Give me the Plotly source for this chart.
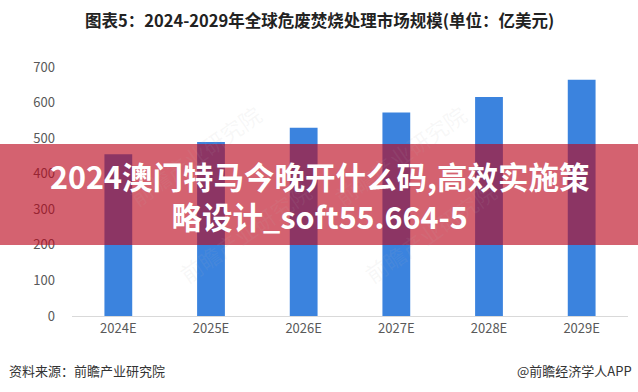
import plotly.graph_objects as go

categories = ["2024E", "2025E", "2026E", "2027E", "2028E", "2029E"]
values = [455, 489, 529, 572, 616, 664]
y_ticks = [0, 100, 200, 300, 400, 500, 600, 700]

title_text = "图表5：2024-2029年全球危废焚烧处理市场规模(单位：亿美元)"
banner_line1 = "2024澳门特马今晚开什么码,高效实施策"
banner_line2 = "略设计_soft55.664-5"
source_text = "资料来源：前瞻产业研究院"
credit_text = "@前瞻经济学人APP"
watermark_text = "前瞻产业研究院"

W, H = 638, 392
L, R, T, B = 72, 10, 67, 76
plot_h = H - T - B

def py(pix):
    return (H - B - pix) / plot_h

def px(pix):
    return (pix - L) / (W - L - R)

CJK = "Noto Sans CJK SC"

fig = go.Figure(go.Bar(
    x=categories, y=values,
    marker=dict(color="#3b83de", line=dict(width=0)),
    width=0.3,
))

fig.update_layout(
    width=W, height=H,
    margin=dict(l=L, r=R, t=T, b=B),
    paper_bgcolor="white", plot_bgcolor="white",
    showlegend=False,
    font=dict(family=CJK, color="#595959"),
    xaxis=dict(showgrid=False, showline=True, linecolor="#d9d9d9", linewidth=1,
               ticks="", tickfont=dict(size=13, color="#595959", family=CJK),
               zeroline=False),
    yaxis=dict(range=[0, 700], tickvals=y_ticks, showgrid=False, zeroline=False,
               showline=False, ticks="", ticklabelstandoff=16,
               tickfont=dict(size=13, color="#595959", family=CJK)),
)

annotations = []
# title
annotations.append(dict(text="<b>" + title_text + "</b>", xref="paper", yref="paper",
                        x=px(319), y=py(20), xanchor="center", yanchor="middle",
                        showarrow=False, font=dict(size=16.5, color="#222222", family=CJK)))
# watermarks
for wx, wy in [(120, 95), (400, 95), (170, 292), (430, 292)]:
    annotations.append(dict(text=watermark_text, xref="paper", yref="paper",
                            x=px(wx), y=py(wy), showarrow=False, textangle=-35,
                            font=dict(size=22, color="rgba(180,180,180,0.10)", family=CJK)))
# banner text (two lines in one block)
annotations.append(dict(text="<b>" + banner_line1 + "<br>" + banner_line2 + "</b>",
                        xref="paper", yref="paper",
                        x=px(319), y=py(196), xanchor="center", yanchor="middle",
                        align="center", showarrow=False,
                        font=dict(size=30.5, color="white", family=CJK)))
# footer
annotations.append(dict(text=source_text, xref="paper", yref="paper",
                        x=px(7), y=py(370), xanchor="left", yanchor="middle",
                        showarrow=False, font=dict(size=13, color="#333333", family=CJK)))
annotations.append(dict(text=credit_text, xref="paper", yref="paper",
                        x=px(634), y=py(370), xanchor="right", yanchor="middle",
                        showarrow=False, font=dict(size=13, color="#333333", family=CJK)))
fig.update_layout(annotations=annotations)

fig.add_shape(type="rect", xref="paper", yref="paper",
              x0=px(0), x1=px(W), y0=py(245), y1=py(144),
              fillcolor="rgba(188,8,30,0.635)", line=dict(width=0), layer="above")

fig.write_html("out.html", config={"displayModeBar": False},
               post_script="document.body.style.margin='0';document.body.style.padding='0';document.body.style.overflow='hidden';")
